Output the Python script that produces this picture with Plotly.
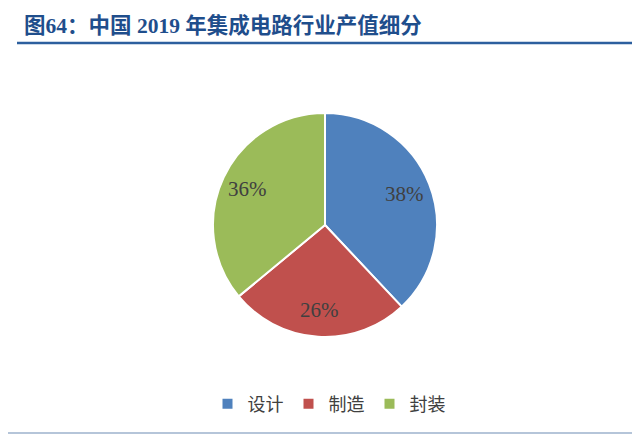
import math
import plotly.graph_objects as go

# 2019 China IC industry output breakdown
segments = ["设计", "制造", "封装"]
shares = [38, 26, 36]
colors = ["#4F81BD", "#C0504D", "#9BBB59"]

title_text = "图64：中国 2019 年集成电路行业产值细分"

W, H = 640, 436
OFF = 8  # page body margin shifts the figure by 8px

def px(x):
    return (x - OFF) / W

def py(y):
    return 1 - (y - OFF) / H

cx, cy, R = 325, 225, 112   # pie centre / radius on the page (for label placement)

fig = go.Figure()

fig.add_trace(go.Pie(
    labels=segments,
    values=shares,
    sort=False,
    direction="clockwise",
    rotation=0,
    marker=dict(colors=colors, line=dict(color="white", width=2)),
    textinfo="none",
    domain=dict(x=[px(cx - R), px(cx + R)], y=[py(cy + R), py(cy - R)]),
    hoverinfo="label+percent",
))

# percentage labels placed at ~3/4 radius, like Excel's default
annotations = []
total = sum(shares)
acc = 0
for v in shares:
    mid = (acc + v / 2) / total * 2 * math.pi
    acc += v
    annotations.append(dict(
        text=f"{round(v / total * 100)}%",
        x=px(cx + 0.76 * R * math.sin(mid)),
        y=py(cy - 0.76 * R * math.cos(mid)),
        xref="paper", yref="paper",
        xanchor="center", yanchor="middle", showarrow=False,
        font=dict(family="Liberation Serif, Times New Roman, serif", size=21, color="#404040"),
    ))

annotations.append(dict(
    text="<b>" + title_text + "</b>",
    x=px(22), y=py(26),
    xref="paper", yref="paper",
    xanchor="left", yanchor="middle",
    showarrow=False,
    font=dict(family="Liberation Serif, Noto Sans CJK SC, serif", size=21.5, color="#1F4E8C"),
))

fig.update_layout(
    width=W, height=H,
    margin=dict(l=0, r=0, t=0, b=0),
    paper_bgcolor="white",
    plot_bgcolor="white",
    showlegend=True,
    legend=dict(
        orientation="h",
        x=px(329), xanchor="center",
        y=py(404), yanchor="middle",
        font=dict(family="Noto Sans CJK SC, sans-serif", size=18, color="#404040"),
        itemwidth=30,
        traceorder="normal",
    ),
    annotations=annotations,
    shapes=[
        dict(type="line", xref="paper", yref="paper",
             x0=px(17), x1=px(635), y0=py(43), y1=py(43),
             line=dict(color="#2C5F9E", width=2.5)),
        dict(type="line", xref="paper", yref="paper",
             x0=px(0), x1=px(636), y0=py(433), y1=py(433),
             line=dict(color="#9DB2CC", width=1.5)),
    ],
)

fig.write_html("out.html")
